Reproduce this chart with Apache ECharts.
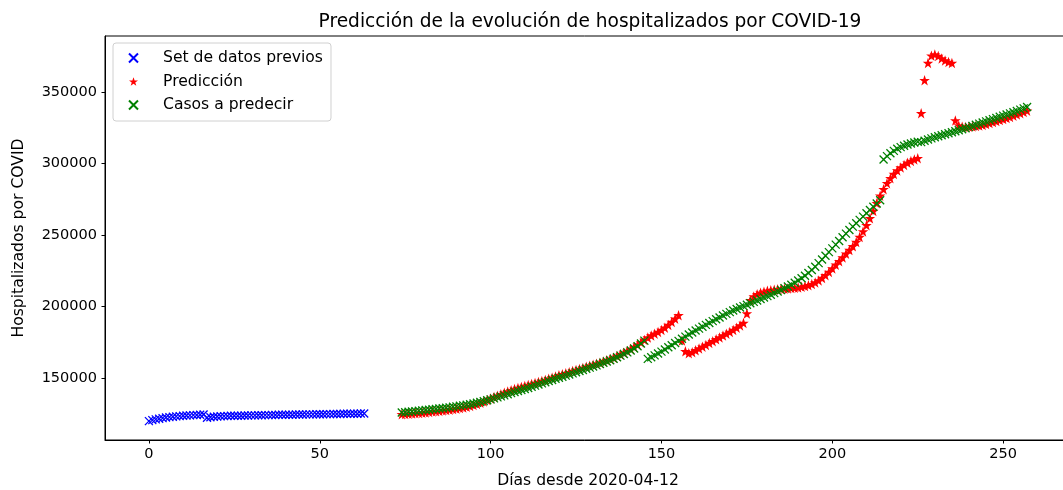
<!DOCTYPE html>
<html>
<head>
<meta charset="utf-8">
<script src="https://cdn.jsdelivr.net/npm/echarts@6/dist/echarts.min.js"></script>
<style>
  html, body { margin: 0; padding: 0; background: #ffffff; }
  #chart { width: 1063px; height: 490px; }
</style>
</head>
<body>
<div id="chart"></div>
<script>
// Hospitalizaciones acumuladas por COVID-19; eje X = días desde 2020-04-12.
const chartTitle = 'Predicción de la evolución de hospitalizados por COVID-19';
const xName = 'Días desde 2020-04-12';
const yName = 'Hospitalizados por COVID';
const seriesNames = ['Set de datos previos', 'Predicción', 'Casos a predecir'];
const xTicks = [0, 50, 100, 150, 200, 250];
const yTicks = [150000, 200000, 250000, 300000, 350000];

// Set de datos previos: días 0..63
const prevStart = 0;
const prevValues = [
  120000, 120700, 121200, 121700, 122100, 122500, 122800, 123100, 123300, 123500,
  123700, 123900, 124000, 124200, 124300, 124400, 124600, 122400, 122700, 123000,
  123200, 123400, 123500, 123600, 123700, 123700, 123800, 123800, 123900, 123900,
  124000, 124000, 124100, 124100, 124200, 124200, 124300, 124300, 124400, 124400,
  124500, 124500, 124500, 124600, 124600, 124600, 124700, 124700, 124700, 124800,
  124800, 124800, 124900, 124900, 125000, 125000, 125000, 125100, 125100, 125200,
  125200, 125200, 125300, 125300
];

// Tramo a predecir: días 74..257
const testStart = 74;
const predValues = [
  124800, 125000, 125100, 125300, 125500, 125700, 125900, 126100, 126400, 126700,
  126900, 127100, 127400, 127700, 128000, 128400, 128700, 129100, 129500, 130000,
  130600, 131300, 132000, 132900, 133800, 134800, 135800, 136800, 137800, 138800,
  139800, 140700, 141600, 142400, 143100, 143800, 144500, 145200, 145900, 146600,
  147300, 148000, 148800, 149600, 150400, 151200, 152000, 152800, 153500, 154200,
  155000, 155800, 156500, 157200, 158000, 158700, 159400, 160100, 160900, 161700,
  162500, 163400, 164400, 165500, 166600, 167800, 169100, 170500, 171900, 173400,
  175000, 176700, 178400, 179800, 181100, 182400, 183700, 185300, 187200, 189300,
  191600, 194000, 176300, 168800, 167500, 168200, 169500, 170800, 172000, 173300,
  174600, 175900, 177200, 178500, 179800, 181100, 182400, 183800, 185300, 186900,
  188600, 195200, 204500, 207200, 208700, 209700, 210500, 211100, 211500, 211900,
  212200, 212400, 212600, 212800, 213000, 213200, 213500, 213900, 214400, 215000,
  215800, 216900, 218300, 220000, 222000, 224300, 226800, 229300, 231800, 234400,
  237000, 239600, 242200, 245200, 248700, 252600, 257000, 261800, 267000, 272400,
  277600, 282200, 286300, 289800, 292800, 295300, 297400, 299100, 300600, 301900,
  302900, 303800, 335300, 358400, 370500, 375500, 376400, 375300, 373600, 372200,
  371200, 370500, 330200, 326800, 325900, 325600, 325800, 326100, 326400, 326700,
  327100, 327700, 328400, 329100, 329800, 330500, 331200, 331900, 332700, 333500,
  334400, 335300, 336200, 337100
];
const actualValues = [
  126000, 126200, 126500, 126700, 127000, 127200, 127500, 127800, 128000, 128300,
  128500, 128800, 129000, 129300, 129600, 130000, 130300, 130700, 131000, 131400,
  131800, 132300, 132800, 133400, 134000, 134600, 135200, 135900, 136600, 137300,
  138000, 138800, 139600, 140400, 141100, 141800, 142500, 143200, 144000, 144800,
  145600, 146400, 147200, 148000, 148800, 149600, 150300, 151000, 151800, 152600,
  153400, 154200, 155000, 155800, 156600, 157400, 158200, 159000, 159900, 160800,
  161700, 162600, 163600, 164700, 165800, 166900, 168100, 169400, 170800, 172400,
  174300, 176300,
  163500, 164700, 166000, 167300, 168600, 170100, 171600, 173100, 174600, 176100,
  177600, 179100, 180600, 182000, 183400, 184700, 186000, 187300, 188600, 189900,
  191200, 192500, 193800, 195000, 196200, 197300, 198400, 199400, 200400, 201400,
  202400, 203400, 204400, 205400, 206400, 207400, 208400, 209500, 210600, 211700,
  212900, 214100, 215400, 216800, 218300, 219900, 221700, 223600, 225700, 228000,
  230500, 233000, 235600, 238200, 240800, 243400, 246000, 248600, 251100, 253600,
  256000, 258400, 260700, 263000, 265300, 267600, 269900, 272200, 274500,
  303000, 305300, 307300, 309000, 310400, 311600, 312600, 313400, 314100, 314800,
  315400, 315100, 316000, 316900, 317700, 318500, 319200, 319900, 320600, 321300,
  322000, 322700, 323400, 324100, 324800, 325600, 326400, 327200, 328000, 328800,
  329600, 330400, 331200, 332000, 332800, 333600, 334400, 335200, 336000, 336900,
  337800, 338700, 339600
];

const toPoints = (start, values) => values.map((v, i) => [start + i, v]);

const crossPath = 'path://M0,0L10,10M10,0L0,10';
const starPath = 'path://M50,2L61.8,36.2L97.6,36.2L68.7,57.4L79.5,91.6L50,70.8L20.5,91.6L31.3,57.4L2.4,36.2L38.2,36.2Z';
const font = 'DejaVu Sans';

const chart = echarts.init(document.getElementById('chart'), null, { renderer: 'canvas' });

chart.setOption({
  animation: false,
  backgroundColor: '#ffffff',
  textStyle: { fontFamily: font },
  title: {
    text: chartTitle,
    left: 585,
    textAlign: 'center',
    top: 8,
    textStyle: { fontFamily: font, fontSize: 18.6, fontWeight: 'normal', color: '#000' }
  },
  // the plot area runs past the right edge of the canvas
  grid: {
    left: 105, width: 966, top: 36, height: 404,
    outerBoundsMode: 'none',
    containLabel: false,
    show: true, borderColor: '#000', borderWidth: 1, backgroundColor: 'transparent'
  },
  legend: {
    orient: 'vertical',
    left: 113, top: 43,
    padding: [7, 8, 8, 15],
    itemGap: 7.5,
    itemWidth: 9, itemHeight: 9,
    backgroundColor: 'rgba(255,255,255,0.8)',
    borderColor: '#d0d0d0', borderWidth: 1, borderRadius: 3,
    textStyle: { fontFamily: font, fontSize: 15.6, color: '#000', padding: [0, 0, 0, 20] },
    data: seriesNames
  },
  xAxis: {
    type: 'value',
    min: -12.85, max: 269.85,
    name: xName, nameLocation: 'middle', nameGap: 33,
    nameTextStyle: { fontFamily: font, fontSize: 15.6, color: '#000' },
    splitLine: { show: false },
    axisLine: { show: true, onZero: false, lineStyle: { color: '#000', width: 1 } },
    axisTick: { show: true, length: 3.5, inside: false, customValues: xTicks, lineStyle: { color: '#000' } },
    axisLabel: { customValues: xTicks, margin: 7, fontFamily: font, fontSize: 14.5, color: '#000' }
  },
  yAxis: {
    type: 'value',
    min: 106800, max: 389300,
    name: yName, nameLocation: 'middle', nameGap: 78,
    nameTextStyle: { fontFamily: font, fontSize: 15.6, color: '#000' },
    splitLine: { show: false },
    axisLine: { show: true, onZero: false, lineStyle: { color: '#000', width: 1 } },
    axisTick: { show: true, length: 3.5, inside: false, customValues: yTicks, lineStyle: { color: '#000' } },
    axisLabel: {
      customValues: yTicks, margin: 8, fontFamily: font, fontSize: 14.5, color: '#000',
      formatter: (v) => String(v)
    }
  },
  series: [
    {
      name: seriesNames[0], type: 'scatter',
      symbol: crossPath, symbolSize: 8,
      itemStyle: { color: 'rgba(0,0,0,0)', borderColor: '#0000ff', borderWidth: 1.3, opacity: 1 },
      data: toPoints(prevStart, prevValues)
    },
    {
      name: seriesNames[1], type: 'scatter',
      symbol: starPath, symbolSize: 10.5,
      itemStyle: { color: '#ff0000', opacity: 1 },
      data: toPoints(testStart, predValues)
    },
    {
      name: seriesNames[2], type: 'scatter',
      symbol: crossPath, symbolSize: 8,
      itemStyle: { color: 'rgba(0,0,0,0)', borderColor: '#008000', borderWidth: 1.3, opacity: 1 },
      data: toPoints(testStart, actualValues)
    }
  ]
});
</script>
</body>
</html>
